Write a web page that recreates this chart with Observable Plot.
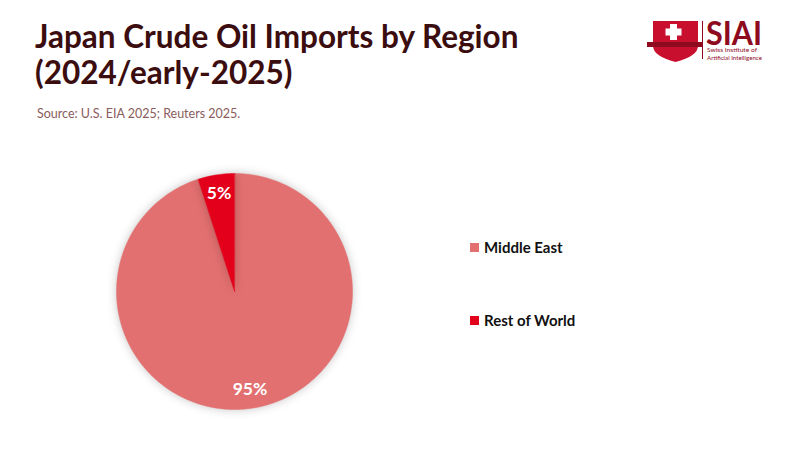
<!DOCTYPE html>
<html>
<head>
<meta charset="utf-8">
<script src="https://cdn.jsdelivr.net/npm/d3@7"></script>
<script src="https://cdn.jsdelivr.net/npm/@observablehq/plot@0.6"></script>
<style>
  body { margin: 0; background: #fff; font-family: Lato, "Noto Sans", sans-serif; }
  #page { position: relative; width: 800px; height: 450px; overflow: hidden; }
  #title { position: absolute; left: 35px; top: 18px; font-size: 31.5px; line-height: 36px; font-weight: 700; color: #3b0d0f; }
  #source { position: absolute; left: 37px; top: 106px; font-size: 12.5px; color: #8a5c5c; }
  #logo { position: absolute; left: 646px; top: 8px; }
  #chart { position: absolute; left: 0; top: 130px; }
  #legend { position: absolute; left: 470px; top: 238px; font-size: 15px; font-weight: 700; color: #111; }
  .item { position: absolute; white-space: nowrap; display: flex; align-items: center; }
  .sw { width: 9px; height: 9px; margin-right: 5px; }
  .pie path { filter: drop-shadow(0 0 5px rgba(0,0,0,0.22)); }
</style>
</head>
<body>
<div id="page">
  <div id="title">Japan Crude Oil Imports by Region<br>(2024/early-2025)</div>
  <div id="source">Source: U.S. EIA 2025; Reuters 2025.</div>
  <svg id="logo" width="130" height="62" viewBox="0 0 130 62">
    <g transform="translate(0,8)">
      <path d="M7 5 L52 5 L52 30 Q52 40 29.5 46 Q7 40 7 30 Z" fill="#c8102e"/>
      <rect x="1" y="26" width="56" height="5" fill="#8e0b1f"/>
      <rect x="24" y="8" width="7" height="16" fill="#fff"/>
      <rect x="19.5" y="12.5" width="16" height="7" fill="#fff"/>
      <line x1="56.5" y1="5" x2="56.5" y2="43" stroke="#8e0b1f" stroke-width="1"/>
      <text x="60" y="29" font-size="32" font-weight="700" fill="#8e0b1f" font-family="Lato, sans-serif" textLength="56" lengthAdjust="spacingAndGlyphs">SIAI</text>
      <text x="61" y="35.5" font-size="6.5" fill="#8e0b1f" font-family="Lato, sans-serif" textLength="50" lengthAdjust="spacingAndGlyphs">Swiss Institute of</text>
      <text x="61" y="43.5" font-size="6.5" fill="#8e0b1f" font-family="Lato, sans-serif" textLength="55" lengthAdjust="spacingAndGlyphs">Artificial Intelligence</text>
    </g>
  </svg>
  <div id="chart"></div>
  <div id="legend"></div>
</div>
<script>
const regions = ["Middle East", "Rest of World"];
const shares = [95, 5];
const colors = ["#e37070", "#e2001a"];

const slices = d3.pie().sort(null)(shares);

// polygon outline of each slice: centre then arc points
const pts = [];
slices.forEach((s, i) => {
  pts.push({region: regions[i], x: 0, y: 0});
  const n = Math.max(2, Math.ceil((s.endAngle - s.startAngle) / (Math.PI / 180)));
  for (let k = 0; k <= n; k++) {
    const a = s.startAngle + (s.endAngle - s.startAngle) * k / n;
    pts.push({region: regions[i], x: Math.sin(a), y: Math.cos(a)});
  }
});

const labels = slices.map((s, i) => {
  const a = (s.startAngle + s.endAngle) / 2;
  return {region: regions[i], text: `${shares[i]}%`, x: 0.84 * Math.sin(a), y: 0.84 * Math.cos(a)};
});

const chart = Plot.plot({
  width: 800,
  height: 320,
  margin: 0,
  x: {domain: [-1, 1], range: [116, 352], axis: null},
  y: {domain: [-1, 1], range: [279, 43], axis: null},
  color: {domain: regions, range: colors},
  marks: [
    Plot.line(pts, {x: "x", y: "y", z: "region", fill: "region", stroke: "region", strokeWidth: 0.5, curve: "linear-closed", className: "pie"}),
    Plot.text(labels, {x: "x", y: "y", text: "text", fill: "white", fontSize: 17.5, fontWeight: 700, fontFamily: "Lato, sans-serif"})
  ]
});
document.getElementById("chart").append(chart);

const legend = d3.select("#legend");
regions.forEach((r, i) => {
  const item = legend.append("div").attr("class", "item").style("top", `${i * 73}px`);
  item.append("div").attr("class", "sw").style("background", colors[i]);
  item.append("span").text(r);
});
</script>
</body>
</html>
